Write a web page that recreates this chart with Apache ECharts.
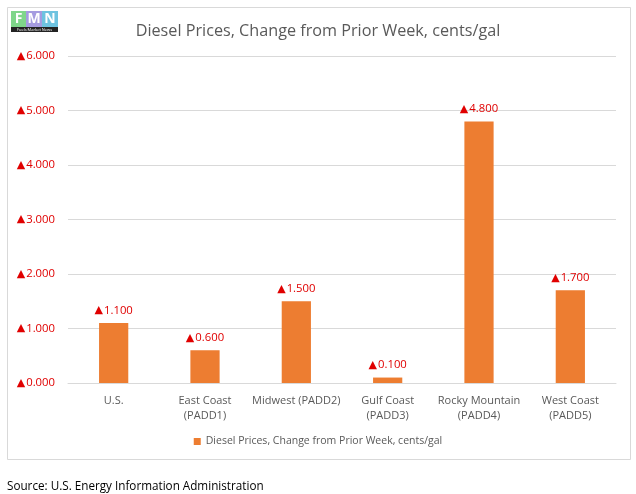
<!DOCTYPE html>
<html>
<head>
<meta charset="utf-8">
<script src="https://cdn.jsdelivr.net/npm/echarts@6/dist/echarts.min.js"></script>
<style>html,body{margin:0;padding:0;background:#fff}#c{width:636px;height:494px}</style>
</head>
<body>
<div id="c"></div>
<script>
var categories = ['U.S.', 'East Coast\n(PADD1)', 'Midwest (PADD2)', 'Gulf Coast\n(PADD3)', 'Rocky Mountain\n(PADD4)', 'West Coast\n(PADD5)'];
var values = [1.1, 0.6, 1.5, 0.1, 4.8, 1.7];
var seriesName = 'Diesel Prices, Change from Prior Week, cents/gal';
var titleText = 'Diesel Prices, Change from Prior Week, cents/gal';
var sourceText = 'Source: U.S. Energy Information Administration';

var FONT = 'Open Sans';
var RED = '#E00000';
var richTri = {
  t: {fontFamily: 'DejaVu Sans', fontSize: 11, color: RED, padding: [0, 1, 0, 0]},
  v: {fontFamily: FONT, fontSize: 11.3, color: RED}
};
function tri(v) { return '{t|▲}{v|' + v.toFixed(3) + '}'; }

var chart = echarts.init(document.getElementById('c'));
chart.setOption({
  animation: false,
  backgroundColor: '#fff',
  title: {
    text: titleText, left: 'center', top: 18,
    textStyle: {fontFamily: FONT, fontSize: 16.2, fontWeight: 'normal', color: '#595959'}
  },
  legend: {
    bottom: 42, left: 'center', itemWidth: 7, itemHeight: 7, icon: 'rect', itemGap: 4,
    textStyle: {fontFamily: FONT, fontSize: 10.5, color: '#595959'}
  },
  grid: {left: 68, right: 20, top: 56, bottom: 111, containLabel: false},
  xAxis: {
    type: 'category', data: categories,
    axisLine: {lineStyle: {color: '#D9D9D9'}},
    axisTick: {show: false},
    axisLabel: {fontFamily: FONT, fontSize: 11, color: '#595959', margin: 10, lineHeight: 15, interval: 0}
  },
  yAxis: {
    type: 'value', min: 0, max: 6, interval: 1,
    axisLine: {show: false}, axisTick: {show: false},
    splitLine: {lineStyle: {color: '#D9D9D9'}},
    axisLabel: {
      margin: 13, rich: richTri,
      formatter: function (v) { return tri(v); }
    }
  },
  series: [{
    name: seriesName, type: 'bar', data: values, barWidth: '32%',
    itemStyle: {color: '#ED7D31'},
    label: {
      show: true, position: 'top', distance: 7, rich: richTri,
      formatter: function (p) { return tri(p.value); }
    }
  }],
  graphic: [
    {type: 'rect', shape: {x: 7.5, y: 7.5, width: 623, height: 452}, style: {fill: 'none', stroke: '#D9D9D9', lineWidth: 1}, silent: true},
    {type: 'rect', shape: {x: 11, y: 11, width: 15, height: 16}, style: {fill: '#7FD68A'}},
    {type: 'rect', shape: {x: 26, y: 11, width: 16, height: 16}, style: {fill: '#A59BE0'}},
    {type: 'rect', shape: {x: 42, y: 11, width: 16, height: 16}, style: {fill: '#6EC3E0'}},
    {type: 'text', x: 18.5, y: 19, style: {text: 'F', fill: '#fff', font: 'bold 14px Open Sans', textAlign: 'center', textVerticalAlign: 'middle'}},
    {type: 'text', x: 34, y: 19, style: {text: 'M', fill: '#fff', font: 'bold 14px Open Sans', textAlign: 'center', textVerticalAlign: 'middle'}},
    {type: 'text', x: 50, y: 19, style: {text: 'N', fill: '#fff', font: 'bold 14px Open Sans', textAlign: 'center', textVerticalAlign: 'middle'}},
    {type: 'rect', shape: {x: 11, y: 27, width: 47, height: 5}, style: {fill: '#222'}},
    {type: 'text', x: 34.5, y: 29.5, style: {text: 'Fuels Market News', fill: '#fff', font: '4px Open Sans', textAlign: 'center', textVerticalAlign: 'middle'}},
    {type: 'text', left: 7, top: 481, style: {text: sourceText, fill: '#000', font: '11.7px Open Sans'}}
  ]
});
</script>
</body>
</html>
